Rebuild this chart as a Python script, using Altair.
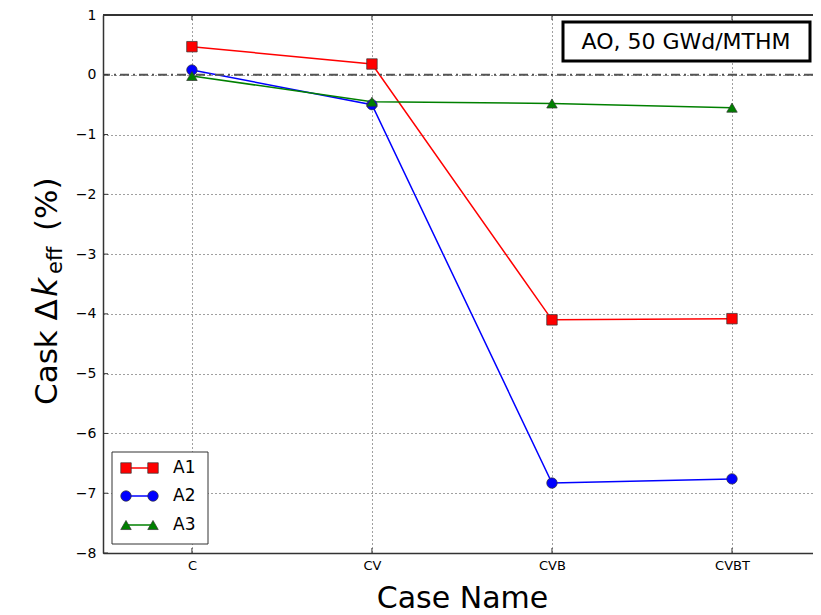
import altair as alt
import pandas as pd

cases = ["C", "CV", "CVB", "CVBT"]
a1 = [0.47, 0.18, -4.10, -4.08]
a2 = [0.08, -0.50, -6.83, -6.76]
a3 = [-0.02, -0.45, -0.48, -0.55]
series = ["A1", "A2", "A3"]
colors = ["#ff0000", "#0000ff", "#008000"]
shapes = ["square", "circle", "triangle-up"]
y_ticks = [-8, -7, -6, -5, -4, -3, -2, -1, 0, 1]

W, H = 710, 538
FONT = "DejaVu Sans"

rows = []
for name, vals in zip(series, [a1, a2, a3]):
    for i, (c, v) in enumerate(zip(cases, vals)):
        rows.append({"series": name, "xi": i, "case": c, "value": v})
df = pd.DataFrame(rows)

label_expr = "[" + ",".join("'%s'" % c for c in cases) + "][datum.value]"

xscale = alt.Scale(domain=[-0.494, 3.45], nice=False, zero=False)
yscale = alt.Scale(domain=[-8, 1], nice=False, zero=False)

xaxis = alt.Axis(values=list(range(len(cases))), labelExpr=label_expr, title="Case Name",
                 titleFontSize=30, titleFont=FONT, titleFontWeight="normal", titleColor="black",
                 titleBaseline="alphabetic", titleY=54, titleX=359,
                 labelFont=FONT, labelFontSize=13, labelColor="black", labelPadding=6,
                 tickSize=0, domainColor="#333", domainWidth=1.5,
                 grid=True, gridDash=[1, 3], gridColor="black", gridOpacity=0.75)
yaxis = alt.Axis(values=y_ticks, labelExpr="replace(format(datum.value, 'd'), '-', '\u2212')", title=None,
                 labelFont=FONT, labelFontSize=14, labelColor="black", labelPadding=7,
                 tickSize=0, domainColor="#333", domainWidth=1.5,
                 grid=True, gridDash=[1, 3], gridColor="black", gridOpacity=0.75)

color_scale = alt.Scale(domain=series, range=colors)
shape_scale = alt.Scale(domain=series, range=shapes)

def X(field):
    return alt.X(field, scale=xscale, axis=xaxis, title="Case Name")

def Y(field):
    return alt.Y(field, scale=yscale, axis=yaxis, title=None)

base = alt.Chart(df)
lines = base.mark_line(strokeWidth=1.5).encode(
    x=X("xi:Q"), y=Y("value:Q"),
    color=alt.Color("series:N", scale=color_scale, legend=None),
    detail="series:N",
)
points = base.mark_point(filled=True, size=110, stroke="#333", strokeWidth=0.7, opacity=1).encode(
    x=X("xi:Q"), y=Y("value:Q"),
    fill=alt.Fill("series:N", scale=color_scale, legend=None),
    shape=alt.Shape("series:N", scale=shape_scale, legend=None),
)

zero = alt.Chart(pd.DataFrame({"xi": [0], "value": [0]})).mark_rule(
    color="#555", strokeWidth=2, strokeDash=[9, 4, 2, 4]).encode(y=Y("value:Q"))

# inward ticks
ytick_df = pd.DataFrame({"value": y_ticks})
yticks = alt.Chart(ytick_df).mark_rule(color="#333", strokeWidth=1).encode(
    y=Y("value:Q"), x=alt.value(0), x2=alt.value(5))
xtick_df = pd.DataFrame({"xi": list(range(len(cases)))})
xticks_b = alt.Chart(xtick_df).mark_rule(color="#333", strokeWidth=1).encode(
    x=X("xi:Q"), y=alt.value(H), y2=alt.value(H - 5))
xticks_t = alt.Chart(xtick_df).mark_rule(color="#333", strokeWidth=1).encode(
    x=X("xi:Q"), y=alt.value(0), y2=alt.value(5))
top_border = alt.Chart(xtick_df).mark_rule(color="#333", strokeWidth=1.5).encode(
    x=alt.value(0), x2=alt.value(W), y=alt.value(0))

# legend
one = pd.DataFrame({"a": [0]})
legend_layers = [alt.Chart(one).mark_rect(fill="white", stroke="#333", strokeWidth=1).encode(
    x=alt.value(9), x2=alt.value(105), y=alt.value(437), y2=alt.value(529))]
row_y = [453, 481, 510]
for name, col, shp, ry in zip(series, colors, shapes, row_y):
    legend_layers.append(alt.Chart(one).mark_rule(color=col, strokeWidth=1.5).encode(
        x=alt.value(23), x2=alt.value(50), y=alt.value(ry)))
    for px in (23, 50):
        legend_layers.append(alt.Chart(one).mark_point(
            filled=True, size=110, fill=col, stroke="#333", strokeWidth=0.7, shape=shp, opacity=1).encode(
            x=alt.value(px), y=alt.value(ry)))
    legend_layers.append(alt.Chart(one).mark_text(
        text=name, font=FONT, fontSize=17, align="left", baseline="middle", color="black").encode(
        x=alt.value(70), y=alt.value(ry)))

# annotation box
anno_box = alt.Chart(one).mark_rect(fill="white", stroke="black", strokeWidth=3).encode(
    x=alt.value(460), x2=alt.value(707), y=alt.value(7), y2=alt.value(46))
anno_text = alt.Chart(one).mark_text(
    text="AO, 50 GWd/MTHM", font=FONT, fontSize=22, align="center", baseline="middle", color="black").encode(
    x=alt.value(583), y=alt.value(27))

# y title pieces (rotated)
yt = []
yt.append(alt.Chart(one).mark_text(text="Cask \u0394", font=FONT, fontSize=31, angle=270,
                                   align="left", baseline="alphabetic", color="black").encode(
    x=alt.value(-46), y=alt.value(390)))
yt.append(alt.Chart(one).mark_text(text="k", font=FONT, fontStyle="italic", fontSize=33, angle=270,
                                   align="left", baseline="alphabetic", color="black").encode(
    x=alt.value(-46), y=alt.value(282)))
yt.append(alt.Chart(one).mark_text(text="eff", font=FONT, fontSize=21, angle=270,
                                   align="left", baseline="alphabetic", color="black").encode(
    x=alt.value(-41), y=alt.value(259)))
yt.append(alt.Chart(one).mark_text(text="(%)", font=FONT, fontSize=31, angle=270,
                                   align="left", baseline="alphabetic", color="black").encode(
    x=alt.value(-46), y=alt.value(216)))

chart = alt.layer(
    lines, zero, points, yticks, xticks_b, xticks_t, top_border,
    *legend_layers, anno_box, anno_text, *yt
).properties(
    width=W, height=H,
    autosize=alt.AutoSizeParams(type="none"),
    padding={"left": 95, "top": 7, "right": 0, "bottom": 61},
).configure_view(strokeWidth=0).configure(background="white").configure_axisX(
    labelFontSize=13, labelFont=FONT
).configure_axisY(labelFontSize=14, labelFont=FONT)

chart.save("out.html", embed_options={"renderer": "svg", "actions": False})
